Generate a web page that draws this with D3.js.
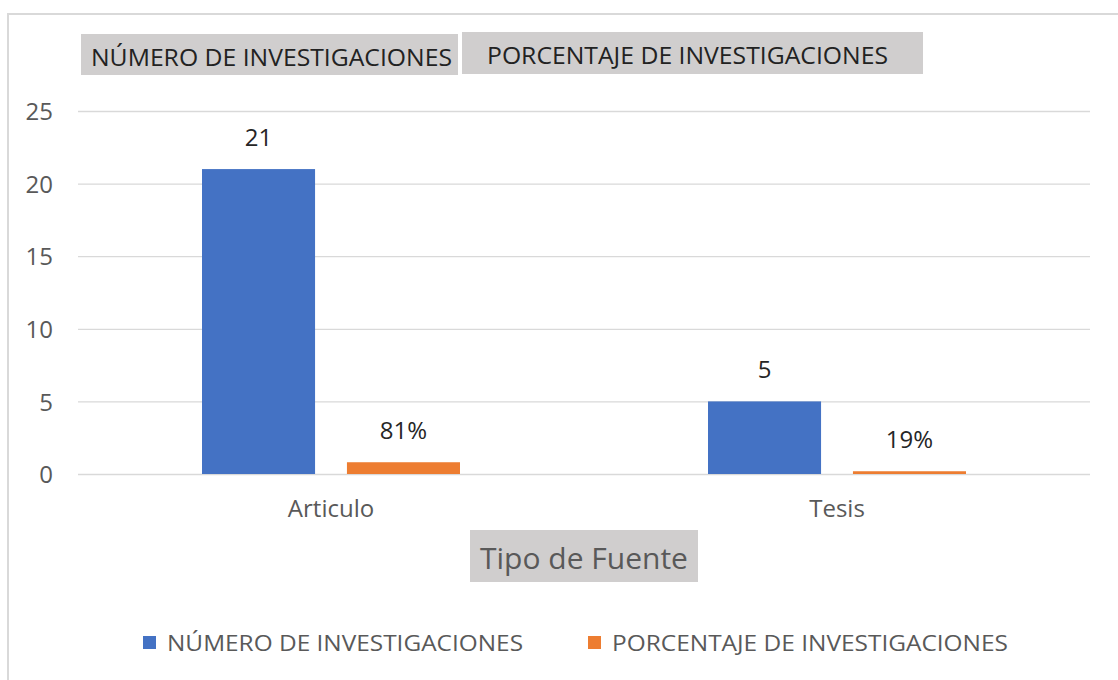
<!DOCTYPE html>
<html><head><meta charset="utf-8">
<script src="https://cdn.jsdelivr.net/npm/d3@7"></script>
<style>body{margin:0;background:#fff;}svg{display:block;font-family:"Open Sans","Noto Sans",sans-serif;}</style>
</head><body>
<svg id="c" width="1118" height="680"></svg>
<script>
const categories = ["Articulo", "Tesis"];
const seriesNames = ["NÚMERO DE INVESTIGACIONES", "PORCENTAJE DE INVESTIGACIONES"];
const numeroValues = [21, 5];
const porcentajeValues = [0.81, 0.19];
const porcentajeLabels = ["81%", "19%"];
const yTicks = [0, 5, 10, 15, 20, 25];
const axisTitle = "Tipo de Fuente";
const colors = ["#4472C4", "#ED7D31"];
const FONT = '"Open Sans","Noto Sans",sans-serif';

const svg = d3.select("#c");
// outer chart border
svg.append("rect").attr("x", 8).attr("y", 14).attr("width", 1130).attr("height", 700)
  .attr("fill", "none").attr("stroke", "#d9d9d9").attr("stroke-width", 2);

const plotLeft = 78, plotRight = 1090, plotTop = 111, plotBottom = 474;
const y = d3.scaleLinear().domain([0, 25]).range([plotBottom, plotTop]);
const x0 = d3.scaleBand().domain(categories).range([plotLeft, plotRight]).paddingInner(0).paddingOuter(0);
const bw = x0.bandwidth();
const x1 = d3.scaleBand().domain(seriesNames).range([bw/2 - 129, bw/2 + 129]).paddingInner(0.22).paddingOuter(0);

// gridlines
const yAxis = d3.axisLeft(y).tickValues(yTicks).tickSize(-(plotRight - plotLeft)).tickPadding(25);
const gy = svg.append("g").attr("transform", `translate(${plotLeft},0)`).call(yAxis)
  .attr("font-family", FONT).attr("font-size", 24);
gy.select(".domain").remove();
gy.selectAll(".tick line").attr("stroke", "#d9d9d9").attr("stroke-width", 1.3);
gy.selectAll(".tick text").attr("fill", "#595959").attr("dy", "0.36em");

// bars
const rows = categories.map((c, i) => ({cat: c, vals: [
  {s: seriesNames[0], v: numeroValues[i], label: String(numeroValues[i]), color: colors[0]},
  {s: seriesNames[1], v: porcentajeValues[i], label: porcentajeLabels[i], color: colors[1]}
]}));
const g = svg.selectAll(".grp").data(rows).enter().append("g")
  .attr("transform", d => `translate(${x0(d.cat)},0)`);
g.selectAll("rect").data(d => d.vals).enter().append("rect")
  .attr("x", d => x1(d.s)).attr("width", x1.bandwidth())
  .attr("y", d => y(d.v)).attr("height", d => y(0) - y(d.v))
  .attr("fill", d => d.color);
g.selectAll("text.lbl").data(d => d.vals).enter().append("text").attr("class", "lbl")
  .attr("x", d => x1(d.s) + x1.bandwidth()/2).attr("y", d => y(d.v) - 23)
  .attr("text-anchor", "middle").attr("fill", "#262626").style("font-size", "24px")
  .text(d => d.label);

// x axis labels
const xAxis = d3.axisBottom(x0).tickSize(0).tickPadding(26);
const gx = svg.append("g").attr("transform", `translate(0,${plotBottom})`).call(xAxis)
  .attr("font-family", FONT).attr("font-size", 24);
gx.select(".domain").remove();
gx.selectAll(".tick text").attr("fill", "#595959");

// axis title box
const tb = svg.append("g");
tb.append("rect").attr("x", 470).attr("y", 530).attr("width", 228).attr("height", 52).attr("fill", "#d0cece");
tb.append("text").attr("x", 584).attr("y", 569).attr("text-anchor", "middle")
  .attr("fill", "#595959").style("font-size", "30px").text(axisTitle);

// top series name boxes
const topBoxes = [{x: 81, y: 34, w: 377, h: 41, tx: 91, ty: 66, tl: 361},
                  {x: 462, y: 32, w: 461, h: 42, tx: 487, ty: 64, tl: 401}];
seriesNames.forEach((s, i) => {
  const b = topBoxes[i];
  svg.append("rect").attr("x", b.x).attr("y", b.y).attr("width", b.w).attr("height", b.h).attr("fill", "#d0cece");
  svg.append("text").attr("x", b.tx).attr("y", b.ty).attr("fill", "#222")
    .style("font-size", "23px").attr("textLength", b.tl).attr("lengthAdjust", "spacingAndGlyphs").text(s);
});

// legend
const legendPos = [{sx: 143, tx: 167, tl: 356}, {sx: 588, tx: 612, tl: 396}];
seriesNames.forEach((s, i) => {
  const p = legendPos[i];
  svg.append("rect").attr("x", p.sx).attr("y", 636).attr("width", 13).attr("height", 13).attr("fill", colors[i]);
  svg.append("text").attr("x", p.tx).attr("y", 651).attr("fill", "#595959")
    .style("font-size", "22px").attr("textLength", p.tl).attr("lengthAdjust", "spacingAndGlyphs").text(s);
});
</script>
</body></html>
